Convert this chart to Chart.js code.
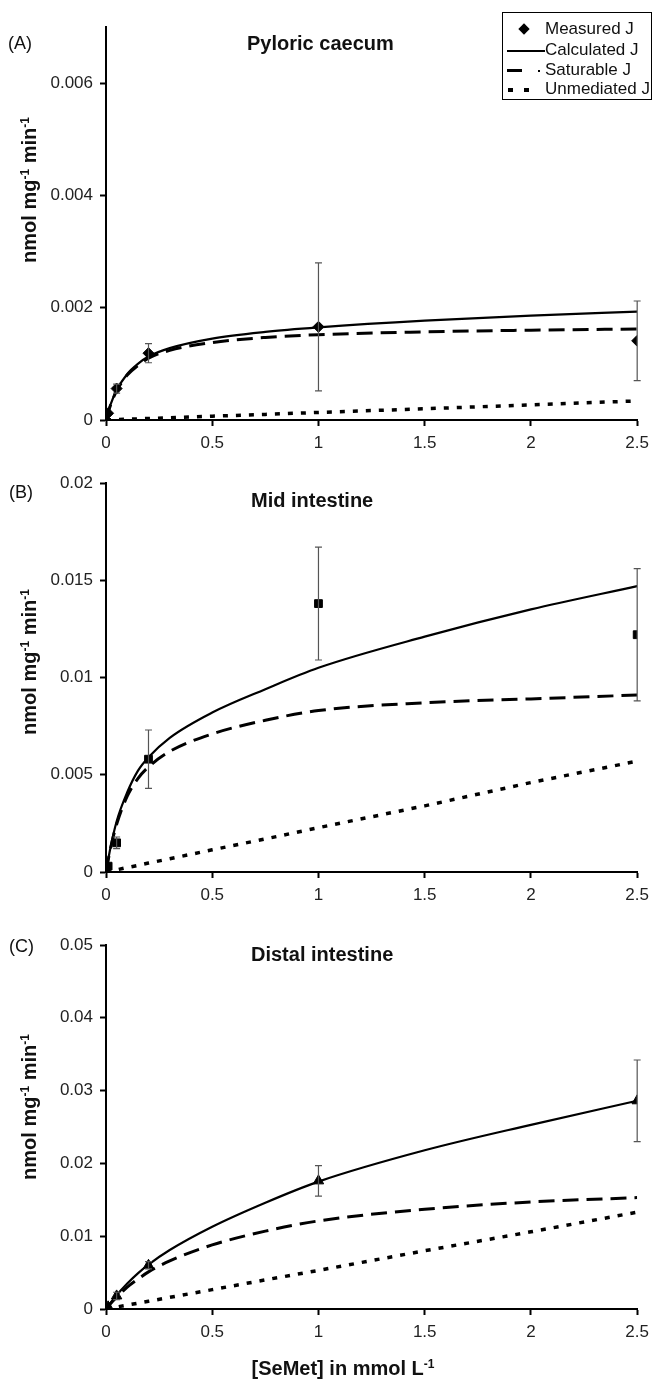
<!DOCTYPE html>
<html>
<head>
<meta charset="utf-8">
<script src="https://cdn.jsdelivr.net/npm/chart.js@4.4.1/dist/chart.umd.min.js"></script>
<style>
  body { margin: 0; background: #fff; width: 656px; height: 1382px; position: relative; overflow: hidden;
         font-family: Arial, "Liberation Sans", sans-serif; color: #111; }
  canvas { position: absolute; left: 0; }
  .lab { position: absolute; font-size: 18px; line-height: 18px; }
  .ttl { position: absolute; font-size: 20px; line-height: 20px; font-weight: bold; }
  .ytl { position: absolute; width: 220px; text-align: center; font-size: 20px; line-height: 22px; font-weight: bold;
         white-space: nowrap; transform: translate(-50%, -50%) rotate(-90deg); }
  .xtl { position: absolute; width: 260px; text-align: center; font-size: 20px; line-height: 22px; font-weight: bold;
         white-space: nowrap; transform: translate(-50%, -50%); }
  sup { font-size: 12px; vertical-align: 7px; line-height: 0; }
  #legend { position: absolute; left: 502px; top: 12px; width: 148px; height: 86px; border: 1.5px solid #000; }
  #legend .row { position: absolute; left: 0; height: 20px; width: 100%; font-size: 17px; line-height: 20px; }
  #legend .txt { position: absolute; left: 42px; top: 0; white-space: nowrap; }
  .mk { position: absolute; background: #000; }
</style>
</head>
<body>
<canvas id="cA" width="656" height="460" style="top:0px"></canvas>
<canvas id="cB" width="656" height="450" style="top:460px"></canvas>
<canvas id="cC" width="656" height="462" style="top:920px"></canvas>

<div class="lab" style="left:8px;top:34px">(A)</div>
<div class="ttl" style="left:247px;top:33px">Pyloric caecum</div>
<div class="lab" style="left:9px;top:483px">(B)</div>
<div class="ttl" style="left:251px;top:490px">Mid intestine</div>
<div class="lab" style="left:9px;top:937px">(C)</div>
<div class="ttl" style="left:251px;top:944px">Distal intestine</div>

<div class="ytl" style="left:29px;top:190px">nmol mg<sup>-1</sup> min<sup>-1</sup></div>
<div class="ytl" style="left:29px;top:662px">nmol mg<sup>-1</sup> min<sup>-1</sup></div>
<div class="ytl" style="left:29px;top:1107px">nmol mg<sup>-1</sup> min<sup>-1</sup></div>
<div class="xtl" style="left:343px;top:1368px">[SeMet] in mmol L<sup>-1</sup></div>

<div id="legend">
  <div class="row" style="top:6px"><span class="mk" style="left:17px;top:6px;width:8px;height:8px;transform:rotate(45deg)"></span><span class="txt">Measured J</span></div>
  <div class="row" style="top:27px"><span class="mk" style="left:4px;top:10px;width:38px;height:2px"></span><span class="txt">Calculated J</span></div>
  <div class="row" style="top:47px"><span class="mk" style="left:4px;top:9px;width:15px;height:3px"></span><span class="mk" style="left:35px;top:10px;width:2px;height:2px"></span><span class="txt">Saturable J</span></div>
  <div class="row" style="top:66px"><span class="mk" style="left:5px;top:9px;width:5px;height:4px"></span><span class="mk" style="left:21px;top:9px;width:5px;height:4px"></span><span class="txt">Unmediated J</span></div>
</div>

<script>
// x values (mmol/L)
const xFit = [0, 0.02, 0.05, 0.1, 0.15, 0.2, 0.3, 0.5, 0.75, 1, 1.5, 2, 2.5];
const xMeas = [0, 0.01, 0.05, 0.2, 1, 2.5];

// (A) Pyloric caecum
const pcMeasured = [0, 0.00012, 0.00056, 0.00119, 0.00166, 0.00141];
const pcErr = [0, 0, 0.00008, 0.00017, 0.00114, 0.00071];
const pcCalc = [0, 0.00026, 0.00053, 0.00082, 0.00100, 0.00113, 0.00128, 0.00145, 0.00157, 0.00165, 0.00177, 0.00186, 0.00193];
const pcSat = [0, 0.00025, 0.00052, 0.00080, 0.00097, 0.00110, 0.00124, 0.00138, 0.00147, 0.00152, 0.00157, 0.00160, 0.00162];
const pcUnmed = [0, 0.000003, 0.000007, 0.000014, 0.00002, 0.000027, 0.00004, 0.000068, 0.0001, 0.000135, 0.0002, 0.00027, 0.00034];

// (B) Mid intestine
const miMeasured = [0, 0.0003, 0.0015, 0.0058, 0.0138, 0.0122];
const miErr = [0, 0, 0.0003, 0.0015, 0.0029, 0.0034];
const miCalc = [0, 0.0012, 0.0026, 0.0041, 0.0052, 0.0059, 0.0069, 0.0082, 0.0094, 0.0105, 0.0121, 0.0135, 0.0147];
const miSat = [0, 0.00115, 0.00245, 0.0039, 0.0048, 0.0054, 0.0062, 0.0071, 0.0078, 0.0083, 0.0087, 0.0089, 0.0091];
const miUnmed = [0, 0.000045, 0.00011, 0.00023, 0.00034, 0.00046, 0.00068, 0.00114, 0.0017, 0.00228, 0.0034, 0.0046, 0.0057];

// (C) Distal intestine
const diMeasured = [0, 0.0003, 0.0018, 0.006, 0.0176, 0.0286];
const diErr = [0, 0, 0.0005, 0.0005, 0.0021, 0.0056];
const diCalc = [0, 0.0008, 0.0019, 0.0035, 0.0049, 0.0061, 0.0081, 0.0113, 0.0146, 0.0175, 0.0218, 0.0253, 0.0286];
const diSat = [0, 0.0007, 0.0016, 0.003, 0.0041, 0.0051, 0.0066, 0.0088, 0.0107, 0.0121, 0.0137, 0.0147, 0.0153];
const diUnmed = [0, 0.0001, 0.00027, 0.00053, 0.0008, 0.00106, 0.0016, 0.00266, 0.004, 0.0053, 0.008, 0.0106, 0.0133];

const xTickStep = 0.5;
const yTicksA = { max: 0.007, step: 0.002 };
const yTicksB = { max: 0.02, step: 0.005 };
const yTicksC = { max: 0.05, step: 0.01 };

const FONT = "Arial, 'Liberation Sans', sans-serif";
const pts = (xs, ys) => xs.map((x, i) => ({ x: x, y: ys[i] }));

// vertical error bars on the measured dataset
const errorBars = {
  id: 'errorBars',
  afterDatasetsDraw(chart, args, opts) {
    const { ctx, scales: { x, y } } = chart;
    ctx.save();
    ctx.strokeStyle = '#555';
    ctx.lineWidth = 1.2;
    opts.err.forEach((e, i) => {
      if (!e) return;
      const px = x.getPixelForValue(xMeas[i]);
      const top = y.getPixelForValue(opts.vals[i] + e);
      const bot = y.getPixelForValue(opts.vals[i] - e);
      ctx.beginPath();
      ctx.moveTo(px, top); ctx.lineTo(px, bot);
      ctx.moveTo(px - 3.5, top); ctx.lineTo(px + 3.5, top);
      ctx.moveTo(px - 3.5, bot); ctx.lineTo(px + 3.5, bot);
      ctx.stroke();
    });
    ctx.restore();
  }
};

function makePanel(id, p) {
  return new Chart(document.getElementById(id), {
    type: 'scatter',
    data: {
      datasets: [
        { label: 'Measured J', data: pts(xMeas, p.meas), showLine: false, pointStyle: p.marker,
          pointRadius: p.marker === 'triangle' ? 6 : 5.5, backgroundColor: '#000', borderColor: '#000' },
        { label: 'Calculated J', data: pts(xFit, p.calc), showLine: true, borderColor: '#000',
          borderWidth: 2.2, pointRadius: 0, cubicInterpolationMode: 'monotone' },
        { label: 'Saturable J', data: pts(xFit, p.sat), showLine: true, borderColor: '#000',
          borderWidth: 3, borderDash: [16, 8], pointRadius: 0, cubicInterpolationMode: 'monotone' },
        { label: 'Unmediated J', data: pts(xFit, p.unmed), showLine: true, borderColor: '#000',
          borderWidth: 3.5, borderDash: [5, 8], pointRadius: 0 }
      ]
    },
    options: {
      responsive: false,
      animation: false,
      events: [],
      layout: { padding: { top: p.padTop, right: 14, left: 0, bottom: 0 } },
      plugins: {
        legend: { display: false },
        tooltip: { enabled: false },
        errorBars: { err: p.err, vals: p.meas }
      },
      scales: {
        x: {
          type: 'linear', min: 0, max: 2.5,
          afterFit: s => { s.height = p.xH; },
          ticks: { stepSize: xTickStep, color: '#222', padding: 7, font: { family: FONT, size: 17 },
                   callback: v => String(v) },
          grid: { drawOnChartArea: false, tickLength: 6, tickWidth: 2, tickColor: '#000' },
          border: { color: '#000', width: 2 }
        },
        y: {
          type: 'linear', min: 0, max: p.yt.max,
          afterFit: s => { s.width = 106; },
          ticks: { stepSize: p.yt.step, includeBounds: false, color: '#222', padding: 7,
                   font: { family: FONT, size: 17 },
                   callback: v => String(parseFloat(v.toFixed(4))) },
          grid: { drawOnChartArea: false, tickLength: 6, tickWidth: 2, tickColor: '#000' },
          border: { color: '#000', width: 2 }
        }
      }
    },
    plugins: [errorBars]
  });
}

makePanel('cA', { meas: pcMeasured, err: pcErr, calc: pcCalc, sat: pcSat, unmed: pcUnmed,
  marker: 'rectRot', yt: yTicksA, padTop: 27, xH: 40 });
makePanel('cB', { meas: miMeasured, err: miErr, calc: miCalc, sat: miSat, unmed: miUnmed,
  marker: 'rect', yt: yTicksB, padTop: 23, xH: 38 });
makePanel('cC', { meas: diMeasured, err: diErr, calc: diCalc, sat: diSat, unmed: diUnmed,
  marker: 'triangle', yt: yTicksC, padTop: 25, xH: 73 });
</script>
</body>
</html>
